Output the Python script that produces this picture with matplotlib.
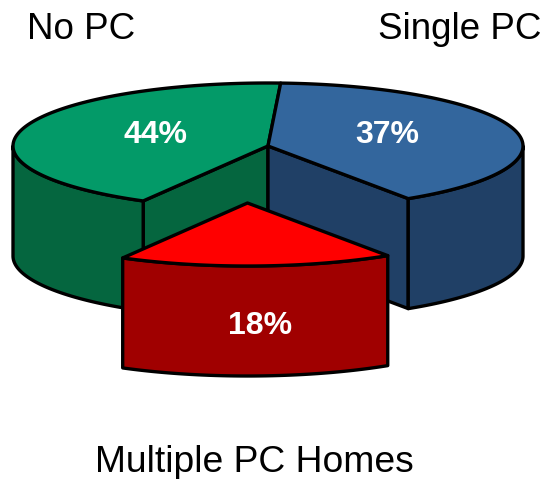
import numpy as np
import matplotlib
matplotlib.use("Agg")
import matplotlib.pyplot as plt
from matplotlib.patches import Polygon

plt.rcParams['font.family'] = ['Liberation Sans', 'DejaVu Sans']

# Data
categories = ["No PC", "Multiple PC Homes", "Single PC"]
values = [44, 18, 37]
pct_labels = ["44%", "18%", "37%"]

# Style
TOP = ["#039A68", "#FF0000", "#33669D"]
WALL = ["#05663F", "#A00000", "#204066"]
CX, CY, RX, RY, DEPTH = 268, 146, 255, 63, 110
START = 83.2
EXPLODE = {1: (-20.5, 57)}
LW = 2.4


def warp(phi):
    # view foreshortening of the tilted pie
    return phi + 5.3 * np.cos(np.radians(phi - 125))


def rim(t0, t1, dx=0, dy=0, n=80):
    t = np.radians(np.linspace(t0, t1, n))
    return np.column_stack([CX + dx + RX * np.cos(t), CY + dy - RY * np.sin(t)])


fig = plt.figure(figsize=(5.47, 4.79), dpi=100)
ax = fig.add_axes([0, 0, 1, 1])
ax.set_xlim(0, 547)
ax.set_ylim(479, 0)
ax.axis("off")

edges = START + 360 * np.concatenate([[0], np.cumsum(values)]) / np.sum(values)
angles = [warp(e) for e in edges]
angles[-1] = angles[0] + 360


def poly(pts, color, z):
    ax.add_patch(Polygon(pts, closed=True, facecolor=color, edgecolor="black",
                         linewidth=LW, joinstyle="round", zorder=z))


def draw_slice(i, z, cuts):
    t0, t1 = angles[i], angles[i + 1]
    dx, dy = EXPLODE.get(i, (0, 0))
    centre = np.array([CX + dx, CY + dy])
    down = np.array([0, DEPTH])
    # inner cut faces that can be seen
    for t in cuts:
        p = rim(t, t, dx, dy, 2)[0]
        poly([centre, p, p + down, centre + down], WALL[i], z)
    # outer wall: the part of the rim facing the viewer
    lo, hi = max(t0, 180), min(t1, 360)
    if lo < hi:
        r = rim(lo, hi, dx, dy)
        poly(np.vstack([r, (r + down)[::-1]]), WALL[i], z + 0.1)
    # top
    poly(np.vstack([[centre], rim(t0, t1, dx, dy, 200)]), TOP[i], z + 0.2)


draw_slice(0, 2, [angles[1]])
draw_slice(2, 2, [angles[2]])
draw_slice(1, 5, [])

pct_pos = [(155, 135), (260, 326), (387, 135)]
for lab, (x, y) in zip(pct_labels, pct_pos):
    ax.text(x, y, lab, color="white", fontsize=23, fontweight="bold",
            ha="center", va="center", zorder=10)

ax.text(27, 39, categories[0], fontsize=26.5, ha="left", va="baseline", color="black")
ax.text(541, 39, categories[2], fontsize=26.5, ha="right", va="baseline", color="black")
ax.text(254, 472, categories[1], fontsize=26.8, ha="center", va="baseline", color="black")

fig.savefig("out.png", dpi=100)
